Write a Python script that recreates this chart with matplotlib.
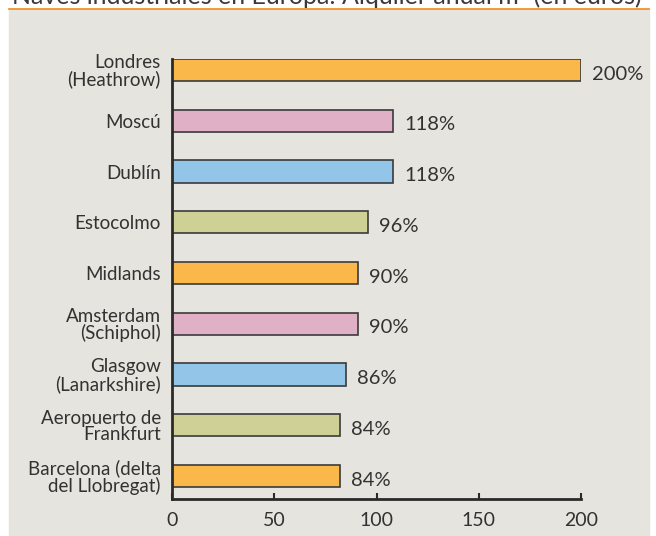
import numpy as np
import matplotlib.pyplot as plt
import matplotlib.patches as patches
from matplotlib.lines import Line2D

# data (bar lengths as drawn, labels as printed)
cities = ["Londres\n(Heathrow)", "Moscú", "Dublín", "Estocolmo", "Midlands",
          "Amsterdam\n(Schiphol)", "Glasgow\n(Lanarkshire)",
          "Aeropuerto de\nFrankfurt", "Barcelona (delta\ndel Llobregat)"]
bar_values = [200, 108, 108, 96, 91, 91, 85, 82, 82]
value_labels = ["200%", "118%", "118%", "96%", "90%", "90%", "86%", "84%", "84%"]
x_ticks = [0, 50, 100, 150, 200]

title = "Naves industriales en Europa: Alquiler anual m² (en euros)"

orange = "#FBB84A"
pink = "#E0B0C6"
blue = "#93C5E9"
olive = "#CFD096"
bar_colors = [orange, pink, blue, olive, orange, pink, blue, olive, orange]
panel = "#E5E4DE"
ink = "#333231"
font = ["Lato", "DejaVu Sans"]

plt.rcParams["font.family"] = font

W, H = 656, 536
fig = plt.figure(figsize=(W / 100, H / 100), dpi=100)

# grey panel and orange rule under the (cut off) title
fig.patches.append(patches.Rectangle((9 / W, 0), 640 / W, 1 - 9 / H,
                                     transform=fig.transFigure, color=panel, zorder=-1))
fig.lines.append(Line2D([9 / W, 649 / W], [1 - 8.5 / H] * 2, transform=fig.transFigure,
                        color="#F5922B", linewidth=1.3))
fig.text(12 / W, 1 - 4 / H, title, fontsize=18, color="#3A3A3A", va="baseline")

ax = fig.add_axes([172 / W, 1 - 499 / H, 409 / W, 440 / H])
ax.set_facecolor("none")

y = np.arange(len(cities))[::-1]
ax.barh(y, bar_values, height=0.436, color=bar_colors, edgecolor="#3A3A3A",
        linewidth=1.2, zorder=2)

for yi, v, lab in zip(y, bar_values, value_labels):
    ax.annotate(lab, (v, yi), xytext=(8, -3), textcoords="offset points",
                ha="left", va="center", fontsize=14.5, color=ink)

ax.set_xlim(0, 200)
ax.set_ylim(-0.455, 8.218)
ax.set_xticks(x_ticks)
ax.set_yticks(y)
ax.set_yticklabels(cities, fontsize=13.5, color=ink, linespacing=0.95)
ax.tick_params(axis="y", length=0, pad=8)
ax.tick_params(axis="x", direction="in", length=4, width=1.5, color="#2B2A29",
               labelsize=14, labelcolor=ink, pad=9)

for side in ("top", "right"):
    ax.spines[side].set_visible(False)
for side in ("left", "bottom"):
    ax.spines[side].set_linewidth(2)
    ax.spines[side].set_color("#2B2A29")

fig.savefig("out.png", dpi=100)
plt.close()
